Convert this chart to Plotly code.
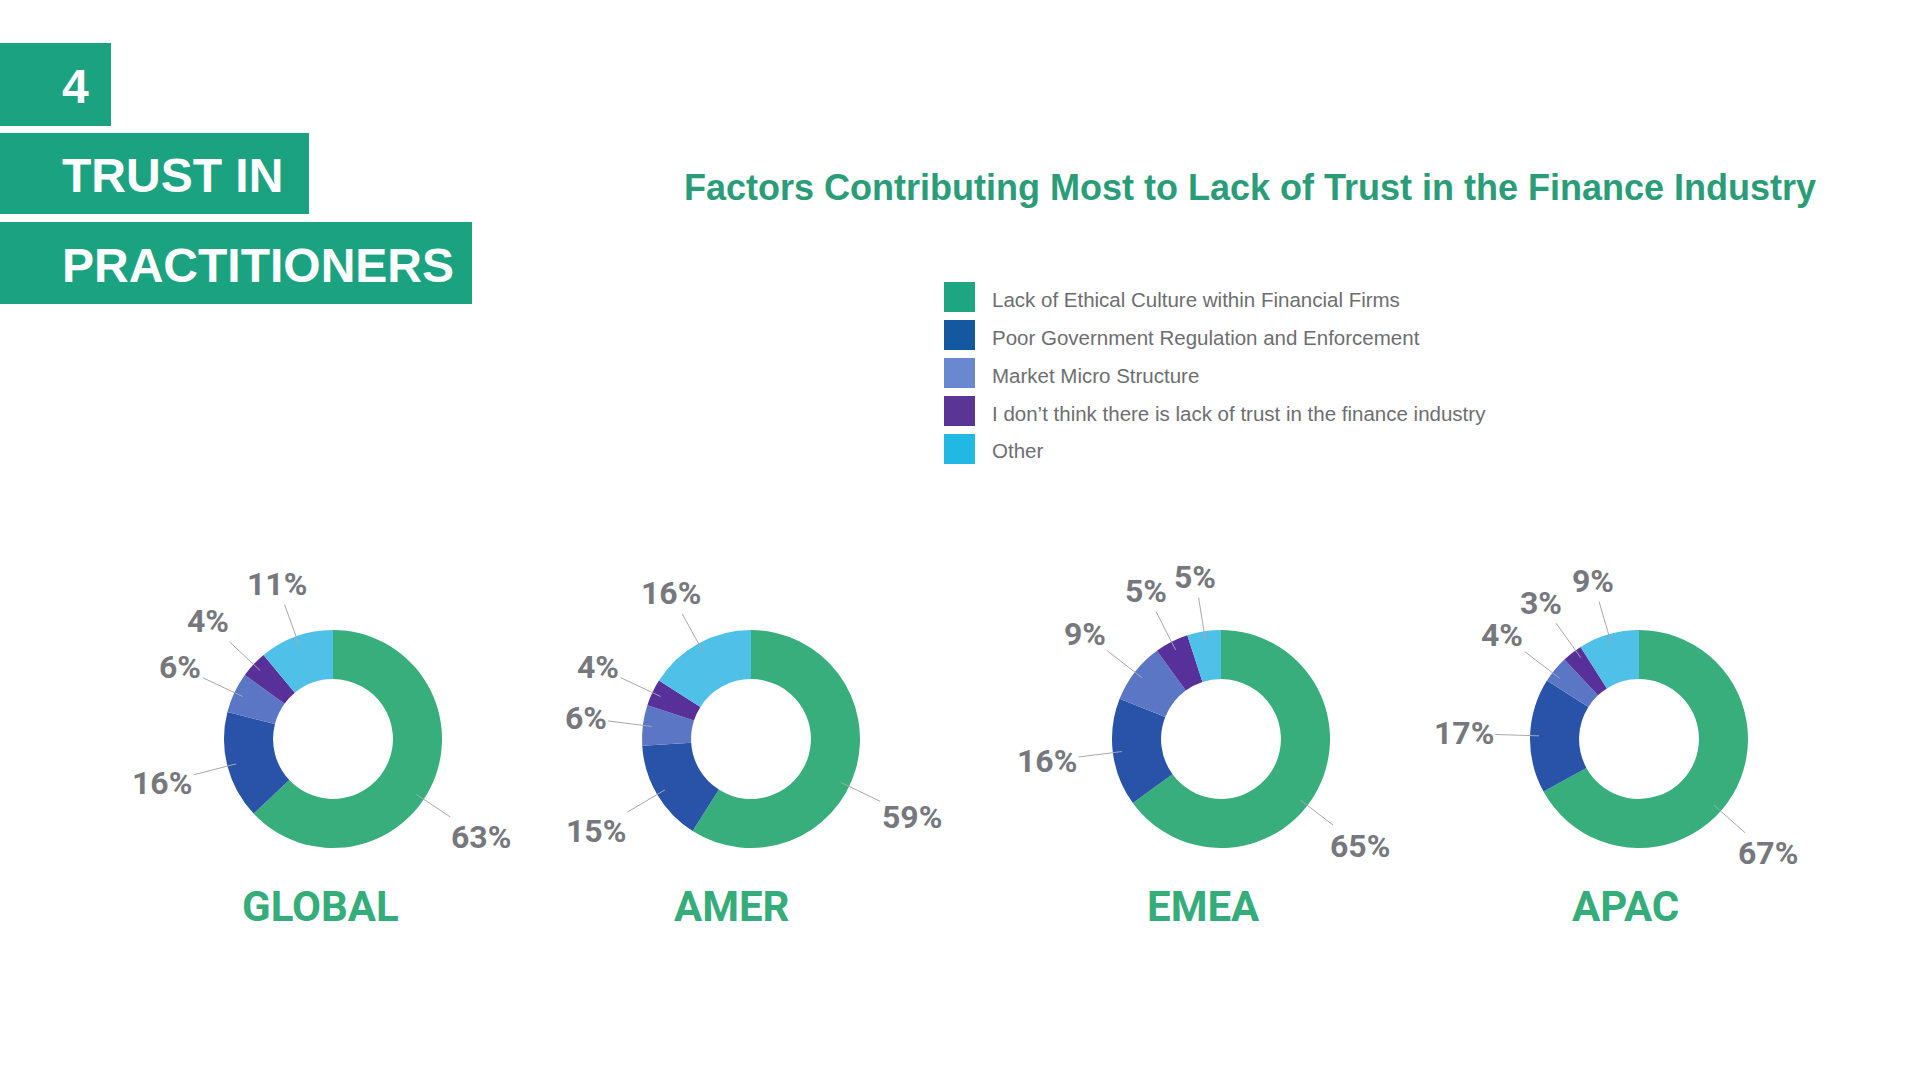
import math
import plotly.graph_objects as go

W, H = 1920, 1080

# ---------------- data ----------------
categories = [
    "Lack of Ethical Culture within Financial Firms",
    "Poor Government Regulation and Enforcement",
    "Market Micro Structure",
    "I don\u2019t think there is lack of trust in the finance industry",
    "Other",
]
regions = ["GLOBAL", "AMER", "EMEA", "APAC"]
global_vals = [63, 16, 6, 4, 11]
amer_vals = [59, 15, 6, 4, 16]
emea_vals = [65, 16, 9, 5, 5]
apac_vals = [67, 17, 4, 3, 9]
title_text = "Factors Contributing Most to Lack of Trust in the Finance Industry"
header_lines = ["4", "TRUST IN", "PRACTITIONERS"]

# ---------------- style ----------------
slice_colors = ["#38ae7c", "#2953a8", "#5b76c4", "#57309a", "#4fc0e8"]
legend_colors = ["#1ea683", "#1458a0", "#6a88cf", "#5a3596", "#22b8e4"]
box_color = "#1ba381"
title_color = "#2a9d78"
region_color = "#34ad7a"
pct_color = "#77787d"
legend_text_color = "#6d6e71"
leader_color = "#a7a9ac"

# layout positions (pixels)
centers_x = [333, 751, 1221, 1639]
center_y = 739
R = 109
hole = 0.55
region_label_x = [320, 732, 1203, 1625]
region_label_y = 906
min_label_sep = 17.0  # degrees between neighbouring labels


def px(x):
    return x / W


def py(y):
    return 1 - y / H


fig = go.Figure()
series = [global_vals, amer_vals, emea_vals, apac_vals]
annotations = []
shapes = []

pct_font_size = 32
for name, vals, cx in zip(regions, series, centers_x):
    fig.add_trace(go.Pie(
        labels=categories,
        values=vals,
        name=name,
        hole=hole,
        sort=False,
        direction="clockwise",
        rotation=0,
        textinfo="none",
        hoverinfo="label+percent",
        marker=dict(colors=slice_colors, line=dict(width=0)),
        domain=dict(x=[px(cx - R), px(cx + R)], y=[py(center_y + R), py(center_y - R)]),
        showlegend=False,
    ))
    total = sum(vals)
    # label angles (degrees, clockwise from top)
    angles = []
    cum = 0
    for v in vals:
        frac = 0.545 if v / total > 0.5 else 0.5
        angles.append((cum + v * frac) / total * 360.0)
        cum += v
    # spread neighbouring labels that are too close
    for i in range(1, len(angles)):
        d = angles[i] - angles[i - 1]
        if d < min_label_sep:
            shift = (min_label_sep - d) / 2
            angles[i - 1] -= shift
            angles[i] += shift
    for v, ang in zip(vals, angles):
        mid = math.radians(ang)
        sx, sy = math.sin(mid), -math.cos(mid)
        r_anchor = 100
        r_edge = 146
        label = f"{v}%"
        w = 0.54 * pct_font_size * (len(label) - 1) + 0.75 * pct_font_size
        h = 1.1 * pct_font_size
        ext = min(w / 2 / max(abs(sx), 1e-6), h / 2 / max(abs(sy), 1e-6))
        off = r_edge + ext - r_anchor
        annotations.append(dict(
            x=px(cx + r_anchor * sx), y=py(center_y + r_anchor * sy),
            xref="paper", yref="paper",
            ax=off * sx, ay=off * sy,
            text=label, showarrow=True, arrowhead=0, arrowwidth=1,
            arrowcolor=leader_color,
            font=dict(family="Roboto", size=pct_font_size, color=pct_color, weight="bold"),
        ))

# region names
for name, lx in zip(regions, region_label_x):
    annotations.append(dict(
        x=px(lx), y=py(region_label_y), xref="paper", yref="paper",
        text=name, showarrow=False, xanchor="center", yanchor="middle",
        font=dict(family="Roboto", size=42, color=region_color, weight="bold"),
    ))

# title
annotations.append(dict(
    x=px(1250), y=py(187), xref="paper", yref="paper",
    text=title_text, showarrow=False, xanchor="center", yanchor="middle",
    font=dict(family="Liberation Sans", size=36, color=title_color, weight="bold"),
))

# legend (custom)
legend_rows_y = [297, 335, 373, 411, 449]
for cat, col, ly in zip(categories, legend_colors, legend_rows_y):
    shapes.append(dict(type="rect", xref="paper", yref="paper",
                       x0=px(944), x1=px(975), y0=py(ly + 15), y1=py(ly - 15),
                       fillcolor=col, line=dict(width=0)))
    annotations.append(dict(
        x=px(990), y=py(ly + 2), xref="paper", yref="paper",
        text=cat, showarrow=False, xanchor="left", yanchor="middle",
        font=dict(family="Liberation Sans", size=20.5, color=legend_text_color),
    ))

# header boxes
header_boxes = [(111, 43, 126), (309, 133, 214), (472, 222, 304)]
for txt, (xr, y0, y1) in zip(header_lines, header_boxes):
    shapes.append(dict(type="rect", xref="paper", yref="paper",
                       x0=0, x1=px(xr), y0=py(y1), y1=py(y0),
                       fillcolor=box_color, line=dict(width=0)))
    annotations.append(dict(
        x=px(60), y=py((y0 + y1) / 2 + 2), xref="paper", yref="paper",
        text=txt, showarrow=False, xanchor="left", yanchor="middle",
        font=dict(family="Liberation Sans", size=48, color="white", weight="bold"),
    ))

fig.update_layout(
    width=W, height=H,
    margin=dict(l=0, r=0, t=0, b=0),
    paper_bgcolor="white", plot_bgcolor="white",
    annotations=annotations, shapes=shapes,
    showlegend=False,
)

fig.write_html(
    "out.html",
    config={"displayModeBar": False},
    post_script="document.body.style.margin='0';document.body.style.overflow='hidden';",
)
